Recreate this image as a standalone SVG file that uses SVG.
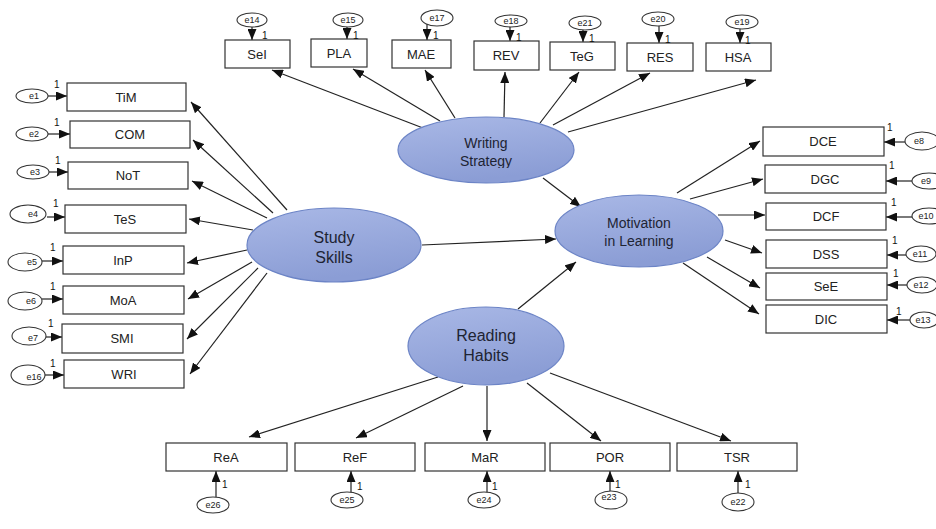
<svg xmlns="http://www.w3.org/2000/svg" width="936" height="529" viewBox="0 0 936 529">
<style>
.box{fill:#fff;stroke:#333;stroke-width:1.2}
.err{fill:#fff;stroke:#333;stroke-width:1.1}
.lat{fill:url(#lg);stroke:#6c84c6;stroke-width:1.2}
.bt{font-family:"Liberation Sans",Arial,sans-serif;font-size:13px;fill:#222;text-anchor:middle}
.et{font-family:"Liberation Sans",Arial,sans-serif;font-size:9px;fill:#222;text-anchor:middle}
.one{font-family:"Liberation Sans",Arial,sans-serif;font-size:10px;fill:#111}
.lt{font-family:"Liberation Sans",Arial,sans-serif;font-size:15px;fill:#1e2433;text-anchor:middle}
.c line{stroke:#222;stroke-width:1.2;marker-end:url(#ah)}
</style>
<defs>
<linearGradient id="lg" x1="0" y1="0" x2="0.3" y2="1">
<stop offset="0" stop-color="#a9b8e6"/>
<stop offset="1" stop-color="#8b9dd5"/>
</linearGradient>
<marker id="ah" markerUnits="userSpaceOnUse" markerWidth="11" markerHeight="9" refX="11" refY="4.5" orient="auto">
<path d="M0,0 L11,4.5 L0,9 z" fill="#111"/>
</marker>
<clipPath id="wsclip"><rect x="390" y="100" width="200" height="68"/></clipPath>
</defs>

<g id="connectors" class="c">
<!-- Writing Strategy to indicators -->
<line x1="423" y1="128" x2="272" y2="70"/>
<line x1="440" y1="121" x2="353" y2="69"/>
<line x1="455" y1="118" x2="425" y2="70"/>
<line x1="504" y1="117" x2="505" y2="72"/>
<line x1="540" y1="123" x2="579" y2="72"/>
<line x1="553" y1="125" x2="650" y2="73"/>
<line x1="568" y1="132" x2="756" y2="80"/>
<!-- Study Skills to indicators -->
<line x1="287" y1="210" x2="191" y2="102"/>
<line x1="273" y1="213" x2="193" y2="140"/>
<line x1="267" y1="218" x2="192" y2="181"/>
<line x1="253" y1="230" x2="189" y2="219"/>
<line x1="247" y1="250" x2="187" y2="263"/>
<line x1="252" y1="262" x2="188" y2="299"/>
<line x1="258" y1="268" x2="187" y2="339"/>
<line x1="267" y1="273" x2="190" y2="374"/>
<!-- structural -->
<line x1="422" y1="245" x2="556" y2="239"/>
<line x1="543" y1="178" x2="581" y2="207"/>
<line x1="518" y1="309" x2="576" y2="262"/>
<!-- Motivation to indicators -->
<line x1="677" y1="193" x2="760" y2="141"/>
<line x1="690" y1="199" x2="763" y2="179"/>
<line x1="718" y1="215" x2="765" y2="215"/>
<line x1="725" y1="240" x2="762" y2="253"/>
<line x1="707" y1="257" x2="760" y2="288"/>
<line x1="683" y1="263" x2="759" y2="314"/>
<!-- Reading Habits to indicators -->
<line x1="438" y1="377" x2="249" y2="437"/>
<line x1="463" y1="386" x2="356" y2="438"/>
<line x1="487" y1="386" x2="487" y2="441"/>
<line x1="527" y1="383" x2="601" y2="441"/>
<line x1="550" y1="373" x2="731" y2="441"/>
<!-- error arrows top -->
<line x1="252" y1="27" x2="252" y2="40"/>
<line x1="347" y1="27" x2="347" y2="39"/>
<line x1="427" y1="14" x2="427" y2="40"/>
<line x1="510" y1="27" x2="510" y2="41"/>
<line x1="583" y1="30" x2="583" y2="42"/>
<line x1="659" y1="26" x2="659" y2="43"/>
<line x1="740" y1="29" x2="740" y2="43"/>
<!-- error arrows left -->
<line x1="48" y1="96" x2="67" y2="96"/>
<line x1="48" y1="134" x2="70" y2="134"/>
<line x1="49" y1="172" x2="68" y2="172"/>
<line x1="47" y1="217" x2="65" y2="217"/>
<line x1="42" y1="261" x2="63" y2="261"/>
<line x1="42" y1="299" x2="63" y2="299"/>
<line x1="46" y1="337" x2="62" y2="337"/>
<line x1="45" y1="375" x2="64" y2="375"/>
<!-- error arrows right -->
<line x1="905" y1="142" x2="884" y2="142"/>
<line x1="912" y1="181" x2="886" y2="181"/>
<line x1="912" y1="217" x2="886" y2="217"/>
<line x1="906" y1="255" x2="887" y2="255"/>
<line x1="907" y1="285" x2="887" y2="285"/>
<line x1="910" y1="320" x2="887" y2="320"/>
<!-- error arrows bottom -->
<line x1="216" y1="497" x2="216" y2="471"/>
<line x1="351" y1="493" x2="351" y2="471"/>
<line x1="487" y1="493" x2="487" y2="471"/>
<line x1="610" y1="492" x2="610" y2="471"/>
<line x1="738" y1="494" x2="738" y2="471"/>
</g>

<!-- latent variables -->
<g id="writing-strategy">
<ellipse class="lat" cx="486" cy="150" rx="88" ry="33"/>
<g clip-path="url(#wsclip)">
<text class="lt" x="486" y="148" style="font-size:14px">Writing</text>
<text class="lt" x="486" y="166" style="font-size:14px">Strategy</text>
</g>
</g>
<g id="study-skills">
<ellipse class="lat" cx="334" cy="245" rx="87" ry="37"/>
<text class="lt" x="334" y="243" style="font-size:16px">Study</text>
<text class="lt" x="334" y="263" style="font-size:16px">Skills</text>
</g>
<g id="reading-habits">
<ellipse class="lat" cx="486" cy="346" rx="78" ry="39"/>
<text class="lt" x="486" y="341" style="font-size:16px">Reading</text>
<text class="lt" x="486" y="361" style="font-size:16px">Habits</text>
</g>
<g id="motivation">
<ellipse class="lat" cx="639" cy="231" rx="84" ry="36"/>
<text class="lt" x="639" y="228" style="font-size:14px">Motivation</text>
<text class="lt" x="639" y="246" style="font-size:14px">in Learning</text>
</g>

<!-- top indicators -->
<g id="SeI"><rect class="box" x="225" y="40" width="65" height="28"/><text class="bt" x="257" y="59">SeI</text></g>
<g id="PLA"><rect class="box" x="311" y="39" width="56" height="28"/><text class="bt" x="339" y="58">PLA</text></g>
<g id="MAE"><rect class="box" x="392" y="40" width="59" height="28"/><text class="bt" x="421" y="59">MAE</text></g>
<g id="REV"><rect class="box" x="474" y="41" width="65" height="29"/><text class="bt" x="506" y="60">REV</text></g>
<g id="TeG"><rect class="box" x="550" y="42" width="65" height="28"/><text class="bt" x="582" y="61">TeG</text></g>
<g id="RES"><rect class="box" x="627" y="43" width="66" height="28"/><text class="bt" x="660" y="62">RES</text></g>
<g id="HSA"><rect class="box" x="706" y="43" width="65" height="28"/><text class="bt" x="738" y="62">HSA</text></g>

<!-- top errors -->
<g id="e14"><ellipse class="err" cx="252" cy="20" rx="15" ry="7"/><text class="et" x="252" y="23">e14</text><text class="one" x="262" y="39">1</text></g>
<g id="e15"><ellipse class="err" cx="348" cy="20" rx="15" ry="7"/><text class="et" x="348" y="23">e15</text><text class="one" x="353" y="39">1</text></g>
<g id="e17"><ellipse class="err" cx="437" cy="18" rx="16" ry="8"/><text class="et" x="437" y="21">e17</text><text class="one" x="433" y="39">1</text></g>
<g id="e18"><ellipse class="err" cx="511" cy="21" rx="16" ry="6"/><text class="et" x="511" y="24">e18</text><text class="one" x="516" y="41">1</text></g>
<g id="e21"><ellipse class="err" cx="585" cy="23" rx="16" ry="7"/><text class="et" x="585" y="26">e21</text><text class="one" x="589" y="42">1</text></g>
<g id="e20"><ellipse class="err" cx="658" cy="19" rx="16" ry="7"/><text class="et" x="658" y="22">e20</text><text class="one" x="665" y="43">1</text></g>
<g id="e19"><ellipse class="err" cx="742" cy="22" rx="16" ry="7"/><text class="et" x="742" y="25">e19</text><text class="one" x="745" y="44">1</text></g>

<!-- left indicators -->
<g id="TiM"><rect class="box" x="67" y="83" width="119" height="28"/><text class="bt" x="126" y="102">TiM</text></g>
<g id="COM"><rect class="box" x="70" y="121" width="120" height="27"/><text class="bt" x="130" y="139">COM</text></g>
<g id="NoT"><rect class="box" x="68" y="162" width="120" height="27"/><text class="bt" x="128" y="180">NoT</text></g>
<g id="TeS"><rect class="box" x="65" y="205" width="121" height="28"/><text class="bt" x="125" y="224">TeS</text></g>
<g id="InP"><rect class="box" x="63" y="246" width="121" height="28"/><text class="bt" x="123" y="265">InP</text></g>
<g id="MoA"><rect class="box" x="63" y="286" width="121" height="28"/><text class="bt" x="123" y="305">MoA</text></g>
<g id="SMI"><rect class="box" x="62" y="324" width="121" height="29"/><text class="bt" x="122" y="343">SMI</text></g>
<g id="WRI"><rect class="box" x="64" y="360" width="120" height="28"/><text class="bt" x="124" y="379">WRI</text></g>

<!-- left errors -->
<g id="e1"><ellipse class="err" cx="32" cy="96" rx="16" ry="7"/><text class="et" x="34" y="99">e1</text><text class="one" x="54" y="88">1</text></g>
<g id="e2"><ellipse class="err" cx="32" cy="134" rx="16" ry="7"/><text class="et" x="34" y="137">e2</text><text class="one" x="54" y="126">1</text></g>
<g id="e3"><ellipse class="err" cx="33" cy="172" rx="16" ry="7"/><text class="et" x="35" y="175">e3</text><text class="one" x="55" y="164">1</text></g>
<g id="e4"><ellipse class="err" cx="28" cy="214" rx="18" ry="9"/><text class="et" x="33" y="217">e4</text><text class="one" x="53" y="207">1</text></g>
<g id="e5"><ellipse class="err" cx="25" cy="262" rx="17" ry="9"/><text class="et" x="32" y="265">e5</text><text class="one" x="50" y="251">1</text></g>
<g id="e6"><ellipse class="err" cx="25" cy="301" rx="17" ry="9"/><text class="et" x="31" y="304">e6</text><text class="one" x="50" y="290">1</text></g>
<g id="e7"><ellipse class="err" cx="29" cy="336" rx="17" ry="9"/><text class="et" x="33" y="341">e7</text><text class="one" x="48" y="327">1</text></g>
<g id="e16"><ellipse class="err" cx="28" cy="375" rx="17" ry="10"/><text class="et" x="34" y="380">e16</text><text class="one" x="50" y="367">1</text></g>

<!-- right indicators -->
<g id="DCE"><rect class="box" x="763" y="127" width="121" height="29"/><text class="bt" x="823" y="146">DCE</text></g>
<g id="DGC"><rect class="box" x="765" y="165" width="121" height="28"/><text class="bt" x="825" y="184">DGC</text></g>
<g id="DCF"><rect class="box" x="766" y="203" width="120" height="27"/><text class="bt" x="826" y="221">DCF</text></g>
<g id="DSS"><rect class="box" x="766" y="240" width="121" height="28"/><text class="bt" x="826" y="259">DSS</text></g>
<g id="SeE"><rect class="box" x="766" y="273" width="121" height="27"/><text class="bt" x="826" y="291">SeE</text></g>
<g id="DIC"><rect class="box" x="766" y="305" width="121" height="28"/><text class="bt" x="826" y="324">DIC</text></g>

<!-- right errors -->
<g id="e8"><ellipse class="err" cx="922" cy="141" rx="17" ry="9"/><text class="et" x="919" y="144">e8</text><text class="one" x="887" y="131">1</text></g>
<g id="e9"><ellipse class="err" cx="929" cy="181" rx="17" ry="8"/><text class="et" x="926" y="184">e9</text><text class="one" x="889" y="169">1</text></g>
<g id="e10"><ellipse class="err" cx="929" cy="216" rx="17" ry="8"/><text class="et" x="926" y="219">e10</text><text class="one" x="891" y="206">1</text></g>
<g id="e11"><ellipse class="err" cx="921" cy="254" rx="15" ry="8"/><text class="et" x="920" y="257">e11</text><text class="one" x="892" y="244">1</text></g>
<g id="e12"><ellipse class="err" cx="922" cy="285" rx="15" ry="8"/><text class="et" x="921" y="288">e12</text><text class="one" x="893" y="277">1</text></g>
<g id="e13"><ellipse class="err" cx="924" cy="320" rx="14" ry="8"/><text class="et" x="923" y="323">e13</text><text class="one" x="896" y="315">1</text></g>

<!-- bottom indicators -->
<g id="ReA"><rect class="box" x="166" y="443" width="121" height="28"/><text class="bt" x="226" y="462">ReA</text></g>
<g id="ReF"><rect class="box" x="295" y="443" width="120" height="28"/><text class="bt" x="355" y="462">ReF</text></g>
<g id="MaR"><rect class="box" x="425" y="443" width="120" height="28"/><text class="bt" x="485" y="462">MaR</text></g>
<g id="POR"><rect class="box" x="550" y="443" width="120" height="28"/><text class="bt" x="610" y="462">POR</text></g>
<g id="TSR"><rect class="box" x="677" y="443" width="120" height="28"/><text class="bt" x="737" y="462">TSR</text></g>

<!-- bottom errors -->
<g id="e26"><ellipse class="err" cx="213" cy="505" rx="16" ry="8"/><text class="et" x="213" y="508">e26</text><text class="one" x="222" y="488">1</text></g>
<g id="e25"><ellipse class="err" cx="347" cy="500" rx="16" ry="8"/><text class="et" x="347" y="503">e25</text><text class="one" x="357" y="490">1</text></g>
<g id="e24"><ellipse class="err" cx="484" cy="500" rx="16" ry="8"/><text class="et" x="484" y="503">e24</text><text class="one" x="492" y="490">1</text></g>
<g id="e23"><ellipse class="err" cx="611" cy="500" rx="16" ry="9"/><text class="et" x="609" y="500">e23</text><text class="one" x="615" y="488">1</text></g>
<g id="e22"><ellipse class="err" cx="738" cy="502" rx="16" ry="9"/><text class="et" x="738" y="505">e22</text><text class="one" x="745" y="488">1</text></g>
</svg>
